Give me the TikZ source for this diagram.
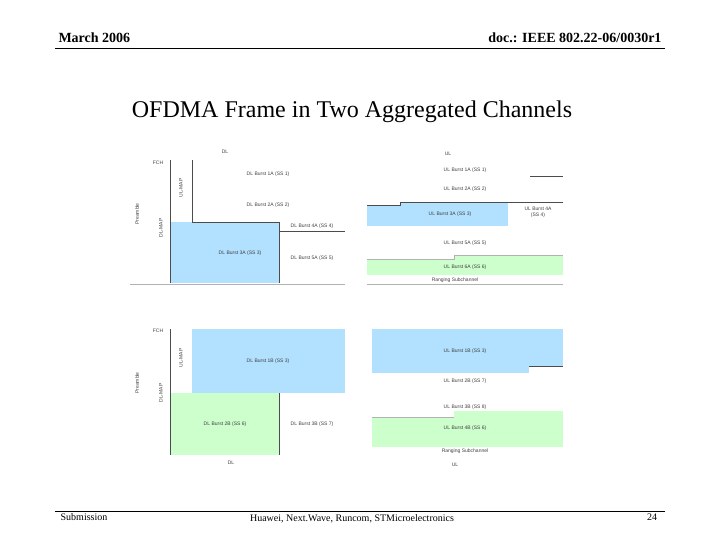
\documentclass[tikz,border=0pt]{standalone}
\usepackage{fontspec}
\setmainfont{Liberation Serif}
\newfontfamily\tinysans{Liberation Sans}
\begin{document}
\begin{tikzpicture}[x=1pt,y=-1pt,
  lab/.style={font=\tinysans\fontsize{5}{6}\selectfont,text=black!75,inner sep=0pt,align=center},
  blk/.style={draw=black!70,line width=0.8pt},
  gl/.style={draw=black!30,line width=0.8pt},
  bluef/.style={fill=blue!40!cyan!30!white},
  greenf/.style={fill=green!20!white}]
\useasboundingbox (0,0) rectangle (720,540);
% header
\node[font=\bfseries\fontsize{14}{16}\selectfont,anchor=west] (hl) at (55,38) {March 2006};
\node[font=\bfseries\fontsize{14}{16}\selectfont,anchor=east] (hr) at (665,38) {doc.: IEEE 802.22-06/0030r1};
\draw[line width=0.6pt] (55,48) -- (665,48);
\node[font=\fontsize{24}{28}\selectfont] (title) at (352,112) {OFDMA Frame in Two Aggregated Channels};
% footer
\draw[line width=0.6pt] (55,511) -- (665,511);
\node[font=\fontsize{10}{12}\selectfont] (f1) at (84,517) {Submission};
\node[font=\fontsize{10}{12}\selectfont] (f2) at (352,519) {Huawei, Next.Wave, Runcom, STMicroelectronics};
\node[font=\fontsize{10}{12}\selectfont] (f3) at (652,517) {24};
% ---- top left
\fill[bluef] (170,222) rectangle (279,283);
\draw[blk] (170,160) -- (170,283);
\draw[blk] (192,160) -- (192,222) -- (279,222) -- (279,283);
\draw[blk] (279,231) -- (345,231);
\draw[gl] (130,284) -- (345,284);
\node[lab] (a0) at (225,152) {DL};
\node[lab] (a1) at (158,163) {FCH};
\node[lab,rotate=90] (a2) at (137,214) {Preamble};
\node[lab,rotate=90] (a3) at (161,228) {DL-MAP};
\node[lab,rotate=90] (a4) at (181,188) {UL-MAP};
\node[lab] (a5) at (268,174) {DL Burst 1A (SS 1)};
\node[lab] (a6) at (268,205) {DL Burst 2A (SS 2)};
\node[lab] (a7) at (312,226) {DL Burst 4A (SS 4)};
\node[lab] (a8) at (240,253) {DL Burst 3A (SS 3)};
\node[lab] (a9) at (312,258) {DL Burst 5A (SS 5)};
% ---- top right
\fill[bluef] (367,205) rectangle (508,226);
\fill[bluef] (400,202) rectangle (508,205);
\draw[blk] (367,205) -- (400,205) -- (400,202) -- (563,202);
\draw[blk] (530,176) -- (563,176);
\fill[greenf] (367,259) rectangle (563,275);
\fill[greenf] (454,255) rectangle (563,259);
\draw[gl] (367,259) -- (454,259) -- (454,255) -- (563,255);
\draw[gl] (367,284) -- (563,284);
\node[lab] (b0) at (448,154) {UL};
\node[lab] (b1) at (465,170) {UL Burst 1A (SS 1)};
\node[lab] (b2) at (465,189) {UL Burst 2A (SS 2)};
\node[lab] (b3) at (450,214) {UL Burst 3A (SS 3)};
\node[lab] (b4) at (538,212) {UL Burst 4A\\(SS 4)};
\node[lab] (b5) at (465,243) {UL Burst 5A (SS 5)};
\node[lab] (b6) at (465,267) {UL Burst 6A (SS 6)};
\node[lab] (b7) at (455,280) {Ranging Subchannel};
% ---- bottom left
\fill[bluef] (192,329) rectangle (345,393);
\fill[greenf] (170,393) rectangle (279,455);
\draw[blk] (170,329) -- (170,455);
\draw[blk] (279,393) -- (279,455);
\node[lab] (c0) at (231,463) {DL};
\node[lab] (c1) at (158,331) {FCH};
\node[lab,rotate=90] (c2) at (137,383) {Preamble};
\node[lab,rotate=90] (c3) at (161,393) {DL-MAP};
\node[lab,rotate=90] (c4) at (181,358) {UL-MAP};
\node[lab] (c5) at (268,361) {DL Burst 1B (SS 3)};
\node[lab] (c6) at (225,424) {DL Burst 2B (SS 6)};
\node[lab] (c7) at (312,424) {DL Burst 3B (SS 7)};
% ---- bottom right
\fill[bluef] (372,329) rectangle (563,366);
\fill[bluef] (372,366) rectangle (529,373);
\draw[blk] (529,366) -- (563,366);
\fill[greenf] (372,417) rectangle (563,447);
\fill[greenf] (454,411) rectangle (563,417);
\draw[gl] (372,417) -- (454,417);
\node[lab] (d1) at (465,351) {UL Burst 1B (SS 3)};
\node[lab] (d2) at (465,381) {UL Burst 2B (SS 7)};
\node[lab] (d3) at (465,407) {UL Burst 3B (SS 8)};
\node[lab] (d4) at (465,428) {UL Burst 4B (SS 6)};
\node[lab] (d5) at (465,451) {Ranging Subchannel};
\node[lab] (d0) at (455,465) {UL};
\end{tikzpicture}
\end{document}
